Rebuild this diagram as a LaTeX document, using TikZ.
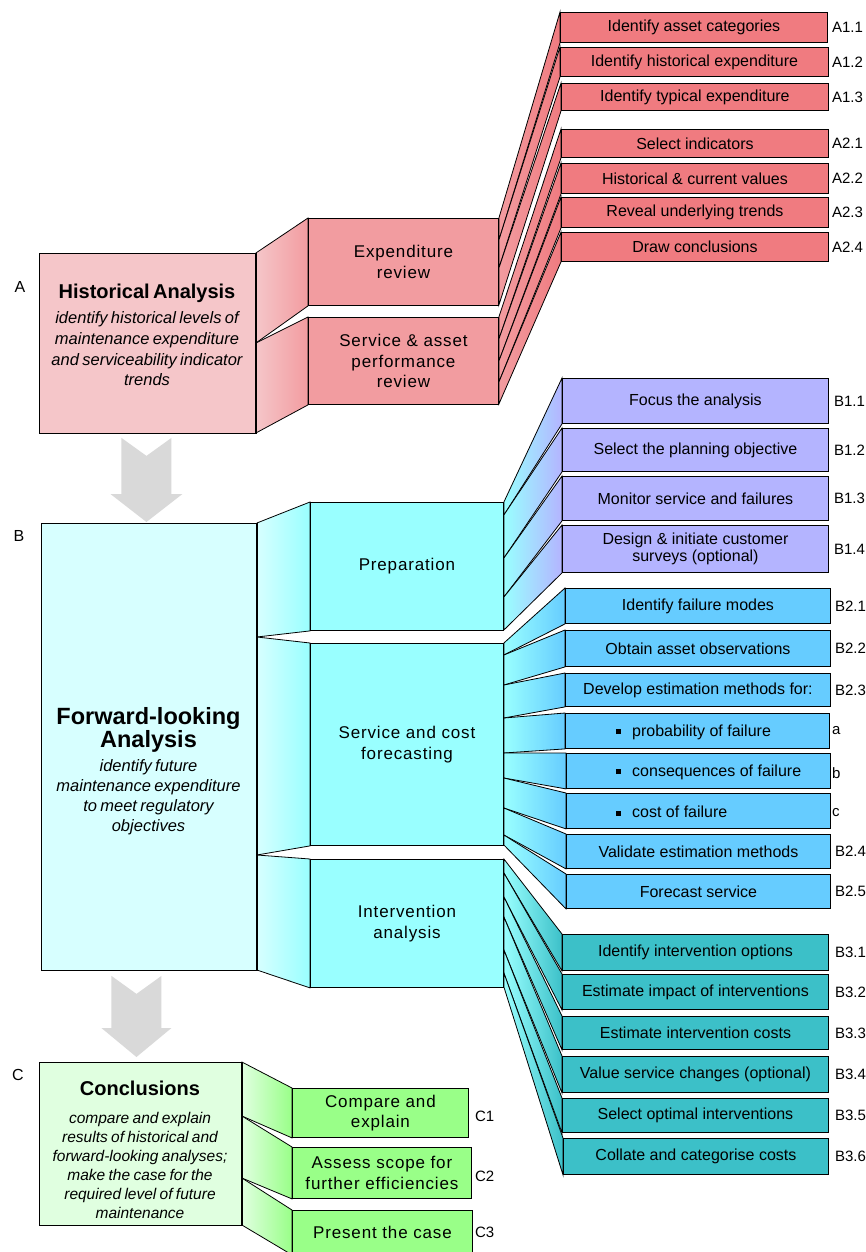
\documentclass[tikz,border=0pt]{standalone}
\usepackage{fontspec}
\setmainfont{Liberation Sans}
\newfontfamily\spacedfont[LetterSpace=5]{Liberation Sans}
\usetikzlibrary{calc}
\pgfdeclarelayer{background}
\pgfsetlayers{background,main}

\definecolor{histA}{HTML}{F5C6C9}
\definecolor{histB}{HTML}{F29CA0}
\definecolor{histC}{HTML}{F07B80}
\definecolor{fwdA}{HTML}{D7FFFF}
\definecolor{fwdB}{HTML}{99FFFF}
\definecolor{prepC}{HTML}{B4B4FF}
\definecolor{fcstC}{HTML}{66CCFF}
\definecolor{intvC}{HTML}{3CC0C8}
\definecolor{conA}{HTML}{E0FFE0}
\definecolor{conB}{HTML}{99FF88}
\definecolor{arrowgrey}{HTML}{D9D9D9}

% box: name, left, top, right, bottom, style, text
\newcommand\bx[7]{\node[#6, anchor=north west, minimum width={#4-#2}, minimum height={#5-#3}] (#1) at (#2,#3) {#7};}
% fan band: source, target, top offset on source edge, bottom offset, left colour, right colour
\newcommand\fan[6]{\path[fanedge, left color=#5, right color=#6] ($(#1.north east)+(0,#3)$) -- (#2.north west) -- (#2.south west) -- ($(#1.north east)+(0,#4)$) -- cycle;}
\newcommand\sqbullet{\rule[2pt]{5pt}{5pt}}

\begin{document}
\begin{tikzpicture}[x=1pt, y=-1pt,
  box/.style={draw=black, line width=0.9pt, inner sep=2pt},
  midbox/.style={box, align=center, font=\fontsize{17}{20.5}\spacedfont},
  taskbox/.style={box, align=center, font=\fontsize{16}{17}\selectfont},
  tag/.style={anchor=west, inner sep=0pt, font=\fontsize{15}{17}\selectfont},
  secletter/.style={inner sep=0pt, font=\fontsize{16}{18}\selectfont},
  headtext/.style={align=center, inner sep=0pt},
  fanedge/.style={draw=black, line width=0.8pt, line join=miter},
  bulletline/.style={anchor=west, inner sep=0pt, font=\fontsize{16}{17}\selectfont},
  greyarrow/.style={fill=arrowgrey},
  thickedge/.style={line width=2.5pt}
]
\useasboundingbox (0,0) rectangle (865,1252);

% ---------------- A: historical analysis ----------------
\node[secletter] (labA) at (20,287) {A};
\bx{hist}{39}{253}{255}{433}{box, fill=histA}{}
\node[headtext, text width=214pt] (histtext) at (147,335)
  {{\fontsize{20}{23}\selectfont\bfseries Historical Analysis\par}\vspace{4.3pt}%
   {\fontsize{16.5}{20.7}\selectfont\itshape identify historical levels of\\maintenance expenditure\\and serviceability indicator\\trends\par}};

\bx{expd}{308}{218}{498}{305}{midbox, fill=histB}{Expenditure\\review}
\bx{serv}{308}{317}{498}{404}{midbox, fill=histB}{Service \& asset\\performance\\review}

\bx{a11}{560}{12}{827}{42}{taskbox, fill=histC}{Identify asset categories}
\bx{a12}{560}{47}{828}{76}{taskbox, fill=histC}{Identify historical expenditure}
\bx{a13}{561}{83}{828}{110}{taskbox, fill=histC}{Identify typical expenditure}
\bx{a21}{561}{129}{828}{157}{taskbox, fill=histC}{Select indicators}
\bx{a22}{561}{163}{828}{193}{taskbox, fill=histC}{Historical \& current values}
\bx{a23}{561}{197}{828}{227}{taskbox, fill=histC}{Reveal underlying trends}
\bx{a24}{561}{232}{828}{261}{taskbox, fill=histC}{Draw conclusions}

\node[tag] (ta11) at ($(a11.east)+(4,0)$) {A1.1};
\node[tag] (ta12) at ($(a12.east)+(3,0)$) {A1.2};
\node[tag] (ta13) at ($(a13.east)+(3,0)$) {A1.3};
\node[tag] (ta21) at ($(a21.east)+(3,0)$) {A2.1};
\node[tag] (ta22) at ($(a22.east)+(3,0)$) {A2.2};
\node[tag] (ta23) at ($(a23.east)+(3,0)$) {A2.3};
\node[tag] (ta24) at ($(a24.east)+(3,0)$) {A2.4};

% ---------------- B: forward-looking analysis ----------------
\node[secletter] (labB) at (19,536) {B};
\bx{fwd}{41}{523}{256}{970}{box, fill=fwdA}{}
\node[headtext, text width=212pt] (fwdtext) at (148.5,771)
  {{\fontsize{23.5}{23.5}\selectfont\bfseries Forward-looking\\Analysis\par}\vspace{3.3pt}%
   {\fontsize{16.5}{20}\selectfont\itshape identify future\\maintenance expenditure\\to meet regulatory\\objectives\par}};

\bx{prep}{310}{502}{503}{630}{midbox, fill=fwdB}{Preparation}
\bx{fcst}{310}{643}{503}{845}{midbox, fill=fwdB}{Service and cost\\forecasting}
\bx{intv}{310}{859}{503}{987}{midbox, fill=fwdB}{Intervention\\analysis}

\bx{b11}{562}{378}{828}{423}{taskbox, fill=prepC}{Focus the analysis}
\bx{b12}{562}{428}{828}{471}{taskbox, fill=prepC}{Select the planning objective}
\bx{b13}{562}{476}{828}{520}{taskbox, fill=prepC}{Monitor service and failures}
\bx{b14}{562}{525}{828}{572}{taskbox, fill=prepC}{Design \& initiate customer\\surveys (optional)}

\bx{b21}{565}{588}{830}{623}{taskbox, fill=fcstC}{Identify failure modes}
\bx{b22}{565}{630}{830}{666}{taskbox, fill=fcstC}{Obtain asset observations}
\bx{b23}{565}{673}{830}{706}{taskbox, fill=fcstC}{Develop estimation methods for:}
\bx{b2a}{565}{713}{829}{748}{taskbox, fill=fcstC}{}
\bx{b2b}{566}{753}{830}{788}{taskbox, fill=fcstC}{}
\bx{b2c}{566}{793}{830}{828}{taskbox, fill=fcstC}{}
\bx{b24}{566}{834}{830}{868}{taskbox, fill=fcstC}{Validate estimation methods}
\bx{b25}{566}{874}{830}{908}{taskbox, fill=fcstC}{Forecast service}
\node[bulletline] (pfail) at ($(b2a.west)+(51,1)$) {\sqbullet\hspace{11pt}probability of failure};
\node[bulletline] (cfail) at ($(b2b.west)+(50,1)$) {\sqbullet\hspace{11pt}consequences of failure};
\node[bulletline] (kfail) at ($(b2c.west)+(50,1)$) {\sqbullet\hspace{11pt}cost of failure};

\bx{b31}{562}{934}{828}{970}{taskbox, fill=intvC}{Identify intervention options}
\bx{b32}{562}{974}{828}{1009}{taskbox, fill=intvC}{Estimate impact of interventions}
\bx{b33}{562}{1016}{828}{1049}{taskbox, fill=intvC}{Estimate intervention costs}
\bx{b34}{562}{1056}{828}{1092}{taskbox, fill=intvC}{Value service changes (optional)}
\bx{b35}{562}{1098}{828}{1132}{taskbox, fill=intvC}{Select optimal interventions}
\bx{b36}{563}{1138}{828}{1174}{taskbox, fill=intvC}{Collate and categorise costs}

\node[tag] (tb11) at ($(b11.east)+(5,0)$) {B1.1};
\node[tag] (tb12) at ($(b12.east)+(5,0)$) {B1.2};
\node[tag] (tb13) at ($(b13.east)+(5,0)$) {B1.3};
\node[tag] (tb14) at ($(b14.east)+(5,0)$) {B1.4};
\node[tag] (tb21) at ($(b21.east)+(4,0)$) {B2.1};
\node[tag] (tb22) at ($(b22.east)+(4,0)$) {B2.2};
\node[tag] (tb23) at ($(b23.east)+(4,0)$) {B2.3};
\node[tag] (tb2a) at ($(b2a.east)+(2,0)$) {a};
\node[tag] (tb2b) at ($(b2b.east)+(1,2)$) {b};
\node[tag] (tb2c) at ($(b2c.east)+(1,2)$) {c};
\node[tag] (tb24) at ($(b24.east)+(4,0)$) {B2.4};
\node[tag] (tb25) at ($(b25.east)+(4,0)$) {B2.5};
\node[tag] (tb31) at ($(b31.east)+(6,0)$) {B3.1};
\node[tag] (tb32) at ($(b32.east)+(6,0)$) {B3.2};
\node[tag] (tb33) at ($(b33.east)+(6,0)$) {B3.3};
\node[tag] (tb34) at ($(b34.east)+(6,0)$) {B3.4};
\node[tag] (tb35) at ($(b35.east)+(6,0)$) {B3.5};
\node[tag] (tb36) at ($(b36.east)+(6,0)$) {B3.6};

% ---------------- C: conclusions ----------------
\node[secletter] (labC) at (18,1075) {C};
\bx{concl}{39}{1062}{241}{1225}{box, fill=conA}{}
\node[headtext, text width=198pt] (concltext) at (140,1150)
  {{\fontsize{20}{23}\selectfont\bfseries Conclusions\par}\vspace{8.5pt}%
   {\fontsize{15.5}{19}\selectfont\itshape compare and explain\\results of historical and\\forward-looking analyses;\\make the case for the\\required level of future\\maintenance\par}};

\bx{c1}{292}{1088}{468}{1137}{midbox, fill=conB}{Compare and\\explain}
\bx{c2}{292}{1147}{471}{1198}{midbox, fill=conB}{Assess scope for\\further efficiencies}
\bx{c3}{292}{1210}{472}{1254}{midbox, fill=conB}{Present the case}

\node[tag] (tc1) at ($(c1.east)+(6,3)$) {C1};
\node[tag] (tc2) at ($(c2.east)+(3,3)$) {C2};
\node[tag] (tc3) at ($(c3.east)+(2,0)$) {C3};

% heavy right edges of the three stage boxes
\draw[thickedge] (hist.north east) -- (hist.south east);
\draw[thickedge] (fwd.north east) -- (fwd.south east);
\draw[thickedge] (concl.north east) -- (concl.south east);

% ---------------- bands and arrows behind the boxes ----------------
\begin{pgfonlayer}{background}
\fill[white] (0,0) rectangle (865,1252);

% stage to step bands
\fan{hist}{expd}{0}{90}{histA}{histB}
\fan{hist}{serv}{90}{180}{histA}{histB}
\fan{fwd}{prep}{0}{114}{fwdA}{fwdB}
\fan{fwd}{fcst}{114}{332}{fwdA}{fwdB}
\fan{fwd}{intv}{332}{447}{fwdA}{fwdB}
\fan{concl}{c1}{0}{54}{conA}{conB}
\fan{concl}{c2}{54}{116}{conA}{conB}
\fan{concl}{c3}{116}{163}{conA}{conB}

% step to task fans
\fan{expd}{a11}{0}{22}{histB}{histC}
\fan{expd}{a12}{22}{50}{histB}{histC}
\fan{expd}{a13}{50}{87}{histB}{histC}
\fan{serv}{a21}{0}{22}{histB}{histC}
\fan{serv}{a22}{22}{44}{histB}{histC}
\fan{serv}{a23}{44}{65}{histB}{histC}
\fan{serv}{a24}{65}{87}{histB}{histC}

\fan{prep}{b11}{0}{13}{fwdB}{prepC}
\fan{prep}{b12}{13}{56}{fwdB}{prepC}
\fan{prep}{b13}{56}{95}{fwdB}{prepC}
\fan{prep}{b14}{95}{128}{fwdB}{prepC}

\fan{fcst}{b21}{0}{12}{fwdB}{fcstC}
\fan{fcst}{b22}{12}{42}{fwdB}{fcstC}
\fan{fcst}{b23}{42}{75}{fwdB}{fcstC}
\fan{fcst}{b2a}{75}{110}{fwdB}{fcstC}
\fan{fcst}{b2b}{110}{135}{fwdB}{fcstC}
\fan{fcst}{b2c}{135}{165}{fwdB}{fcstC}
\fan{fcst}{b24}{165}{192}{fwdB}{fcstC}
\fan{fcst}{b25}{192}{202}{fwdB}{fcstC}

\fan{intv}{b31}{0}{14}{fwdB}{intvC}
\fan{intv}{b32}{14}{38}{fwdB}{intvC}
\fan{intv}{b33}{38}{58}{fwdB}{intvC}
\fan{intv}{b34}{58}{91}{fwdB}{intvC}
\fan{intv}{b35}{91}{114}{fwdB}{intvC}
\fan{intv}{b36}{114}{128}{fwdB}{intvC}

% grey block arrows between the stages
\fill[greyarrow] ($(hist.south)+(-26,4)$) -- ($(hist.south)+(-1,22)$) -- ($(hist.south)+(24,4)$)
  -- ($(fwd.north)+(22.5,-29)$) -- ($(fwd.north)+(33.5,-29)$) -- ($(fwd.north)+(-2.5,-1)$)
  -- ($(fwd.north)+(-38.5,-29)$) -- ($(fwd.north)+(-27.5,-29)$) -- cycle;
\fill[greyarrow] ($(fwd.south)+(-37.5,5)$) -- ($(fwd.south)+(-12.5,23)$) -- ($(fwd.south)+(12.5,5)$)
  -- ($(concl.north)+(21,-34)$) -- ($(concl.north)+(31,-34)$) -- ($(concl.north)+(-4,-5)$)
  -- ($(concl.north)+(-39,-34)$) -- ($(concl.north)+(-29,-34)$) -- cycle;
\end{pgfonlayer}
\end{tikzpicture}
\end{document}
